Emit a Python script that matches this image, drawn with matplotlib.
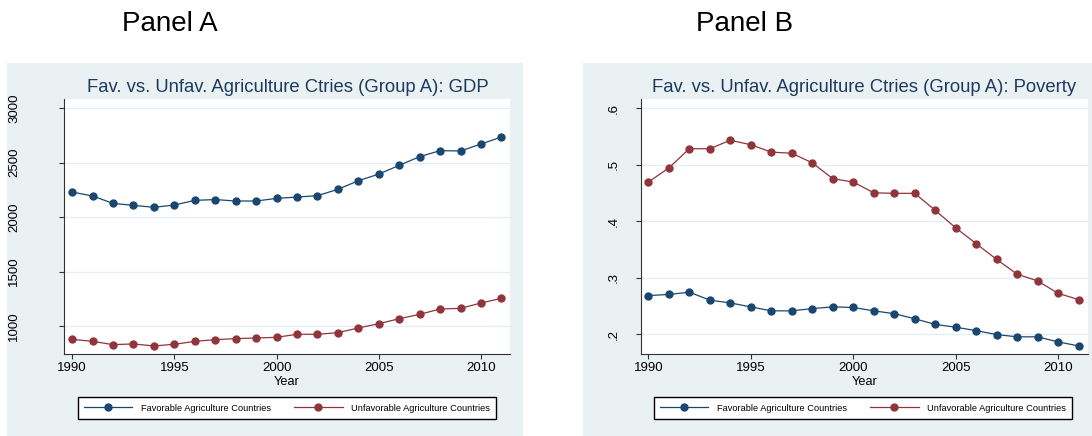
import numpy as np
import matplotlib
matplotlib.use("Agg")
import matplotlib.pyplot as plt
from matplotlib.patches import Rectangle

plt.rcParams['font.family'] = ['Liberation Sans', 'DejaVu Sans']

years = list(range(1990, 2012))

# Panel A: GDP
gdp_fav = [2229, 2193, 2125, 2107, 2089, 2110, 2153, 2160, 2147, 2147, 2171, 2183,
           2196, 2254, 2333, 2394, 2474, 2554, 2609, 2606, 2670, 2734]
gdp_unfav = [878, 859, 829, 835, 817, 832, 859, 875, 884, 890, 896, 924,
             924, 939, 982, 1021, 1067, 1107, 1156, 1162, 1211, 1254]

# Panel B: Poverty
pov_fav = [0.268, 0.270, 0.274, 0.260, 0.255, 0.248, 0.241, 0.241, 0.245, 0.248, 0.247, 0.241,
           0.236, 0.227, 0.217, 0.212, 0.206, 0.199, 0.195, 0.195, 0.186, 0.179]
pov_unfav = [0.469, 0.494, 0.528, 0.528, 0.543, 0.535, 0.522, 0.520, 0.503, 0.475, 0.469, 0.450,
             0.449, 0.449, 0.419, 0.388, 0.360, 0.332, 0.306, 0.294, 0.272, 0.261]

xticks = [1990, 1995, 2000, 2005, 2010]
gdp_ticks = [1000, 1500, 2000, 2500, 3000]
gdp_ticklabels = ['1000', '1500', '2000', '2500', '3000']
pov_ticks = [0.2, 0.3, 0.4, 0.5, 0.6]
pov_ticklabels = ['.2', '.3', '.4', '.5', '.6']

titles = ['Fav. vs. Unfav. Agriculture Ctries (Group A): GDP',
          'Fav. vs. Unfav. Agriculture Ctries (Group A): Poverty']
labels = ['Favorable Agriculture Countries', 'Unfavorable Agriculture Countries']

NAVY = '#1a476f'
MAROON = '#90353b'
BG = '#eaf1f3'
W, H = 1092, 436

fig = plt.figure(figsize=(W / 100, H / 100), dpi=100)
fig.patch.set_facecolor('white')


def px_box(x0, x1, y0, y1):
    # image pixel box (y from top) -> figure fraction [left, bottom, width, height]
    return [x0 / W, 1 - y1 / H, (x1 - x0) / W, (y1 - y0) / H]


# graph region backgrounds
for x0, x1 in [(7, 523), (583, 1092)]:
    l, b, w, h = px_box(x0, x1, 63, 436)
    fig.patches.append(Rectangle((l, b), w, h, transform=fig.transFigure,
                                 facecolor=BG, edgecolor='none', zorder=-5))

fig.text(170 / W, 1 - 24 / H, 'Panel A', fontsize=20, ha='center', va='center')
fig.text(745 / W, 1 - 24 / H, 'Panel B', fontsize=20, ha='center', va='center')

panels = [
    dict(box=(64, 510), fav=gdp_fav, unfav=gdp_unfav, yt=gdp_ticks, ytl=gdp_ticklabels,
         ylim=(743, 3083), xlim=(1989.6, 2011.42), pad=28, title=titles[0],
         title_x=287.5, leg_x=287),
    dict(box=(641, 1088), fav=pov_fav, unfav=pov_unfav, yt=pov_ticks, ytl=pov_ticklabels,
         ylim=(0.1646, 0.616), xlim=(1989.64, 2011.46), pad=11.5, title=titles[1],
         title_x=864, leg_x=863),
]

for p in panels:
    ax = fig.add_axes(px_box(p['box'][0], p['box'][1], 99, 354))
    ax.set_facecolor('white')
    ax.plot(years, p['fav'], color=NAVY, lw=0.9, marker='o', ms=5, label=labels[0])
    ax.plot(years, p['unfav'], color=MAROON, lw=0.9, marker='o', ms=5, label=labels[1])
    ax.set_xlim(*p['xlim'])
    ax.set_ylim(*p['ylim'])
    ax.set_xticks(xticks)
    ax.set_yticks(p['yt'])
    ax.set_yticklabels(p['ytl'], rotation=90, va='center')
    ax.tick_params(axis='both', length=3.6, width=0.8, color='#333333', labelsize=9.5)
    ax.tick_params(axis='x', pad=2.5)
    ax.tick_params(axis='y', pad=p['pad'])
    ax.grid(axis='y', color='#e4edf0', lw=0.9)
    ax.set_axisbelow(True)
    for s in ['top', 'right']:
        ax.spines[s].set_visible(False)
    for s in ['left', 'bottom']:
        ax.spines[s].set_color('#333333')
        ax.spines[s].set_linewidth(0.8)
    ax.set_xlabel('Year', fontsize=9.2)
    ax.xaxis.set_label_coords(0.5, -0.086)
    ax.xaxis.label.set_va('top')
    fig.text(p['title_x'] / W, 1 - 87 / H, p['title'], fontsize=13.3, color='#1e3a5f',
             ha='center', va='center')
    leg = ax.legend(loc='center', bbox_to_anchor=(p['leg_x'] / W, 1 - 408 / H),
                    bbox_transform=fig.transFigure, ncol=2, fontsize=6.7,
                    frameon=True, fancybox=False, edgecolor='black', framealpha=1,
                    handlelength=5.2, handletextpad=0.9, columnspacing=2.5,
                    borderpad=0.65)
    leg.get_frame().set_linewidth(1.0)

fig.savefig('out.png', dpi=100, facecolor='white')
